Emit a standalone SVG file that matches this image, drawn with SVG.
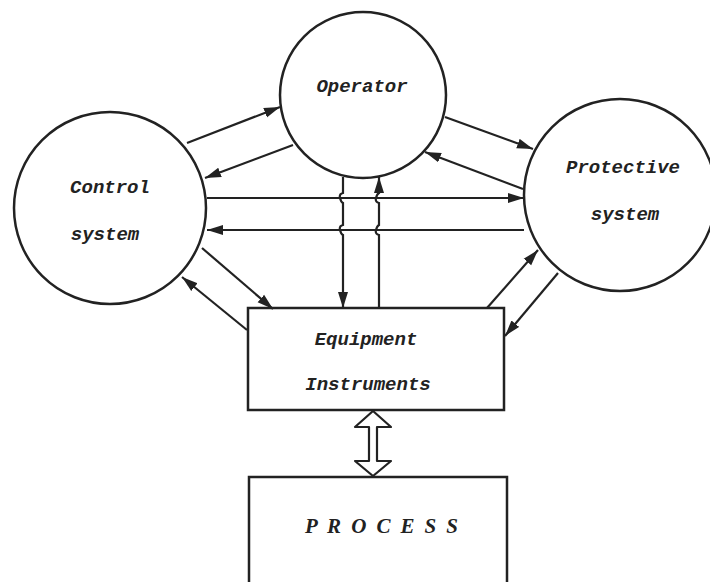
<svg xmlns="http://www.w3.org/2000/svg" width="710" height="582" viewBox="0 0 710 582">
<style>
.node{fill:#fff;stroke:#222;stroke-width:2.5}
.lbl{font-family:"Liberation Mono","DejaVu Sans Mono",monospace;font-style:italic;font-weight:bold;font-size:19px;fill:#222;text-anchor:middle}
.proc{font-family:"Liberation Serif","DejaVu Serif",serif;font-style:italic;font-weight:bold;font-size:21px;fill:#222}
.ln{fill:none;stroke:#222;stroke-width:2.2;marker-end:url(#ah)}
.dbl{fill:#fff;stroke:#222;stroke-width:2.2;stroke-linejoin:round}
</style>
<defs>
<marker id="ah" markerUnits="userSpaceOnUse" markerWidth="18" markerHeight="12" refX="16" refY="5.5" orient="auto">
<path d="M0,0.5 L16,5.5 L0,10.5 z" fill="#222"/>
</marker>
</defs>
<rect width="710" height="582" fill="#fff"/>
<g id="operator">
<circle class="node" cx="363" cy="95" r="83"/>
<text class="lbl" x="362" y="92">Operator</text>
</g>
<g id="control-system">
<circle class="node" cx="110" cy="208" r="96"/>
<text class="lbl" x="110" y="193">Control</text>
<text class="lbl" x="105" y="240">system</text>
</g>
<g id="protective-system">
<circle class="node" cx="620" cy="195" r="96"/>
<text class="lbl" x="623" y="173">Protective</text>
<text class="lbl" x="625" y="220">system</text>
</g>
<g id="equipment">
<rect class="node" x="248" y="308" width="256" height="102"/>
<text class="lbl" x="366" y="345">Equipment</text>
<text class="lbl" x="368" y="390">Instruments</text>
</g>
<g id="process">
<rect class="node" x="249" y="477" width="258" height="130"/>
<text class="proc" x="305" y="533" textLength="153" lengthAdjust="spacing">P R O C E S S</text>
</g>
<g id="connectors">
<path class="ln" d="M187,143 L280,107"/>
<path class="ln" d="M293,145 L205,178"/>
<path class="ln" d="M445,117 L533,149"/>
<path class="ln" d="M523,189 L425,152"/>
<path class="ln" d="M207,198 L524,198"/>
<path class="ln" d="M524,230 L207,230"/>
<path class="ln" d="M343,177 V193 q-4,1 -3,5 q1,4 3,5 V225 q-4,1 -3,5 q1,4 3,5 V308"/>
<path class="ln" d="M379,308 V235 q-4,-1 -3,-5 q1,-4 3,-5 V203 q-4,-1 -3,-5 q1,-4 3,-5 V177"/>
<path class="ln" d="M202,248 L273,309"/>
<path class="ln" d="M247,330 L182,277"/>
<path class="ln" d="M487,308 L538,250"/>
<path class="ln" d="M558,273 L505,336"/>
<path class="dbl" d="M373,411 L391,427 L377,427 L377,461 L391,461 L373,476 L355,461 L369,461 L369,427 L355,427 Z"/>
</g>
</svg>
